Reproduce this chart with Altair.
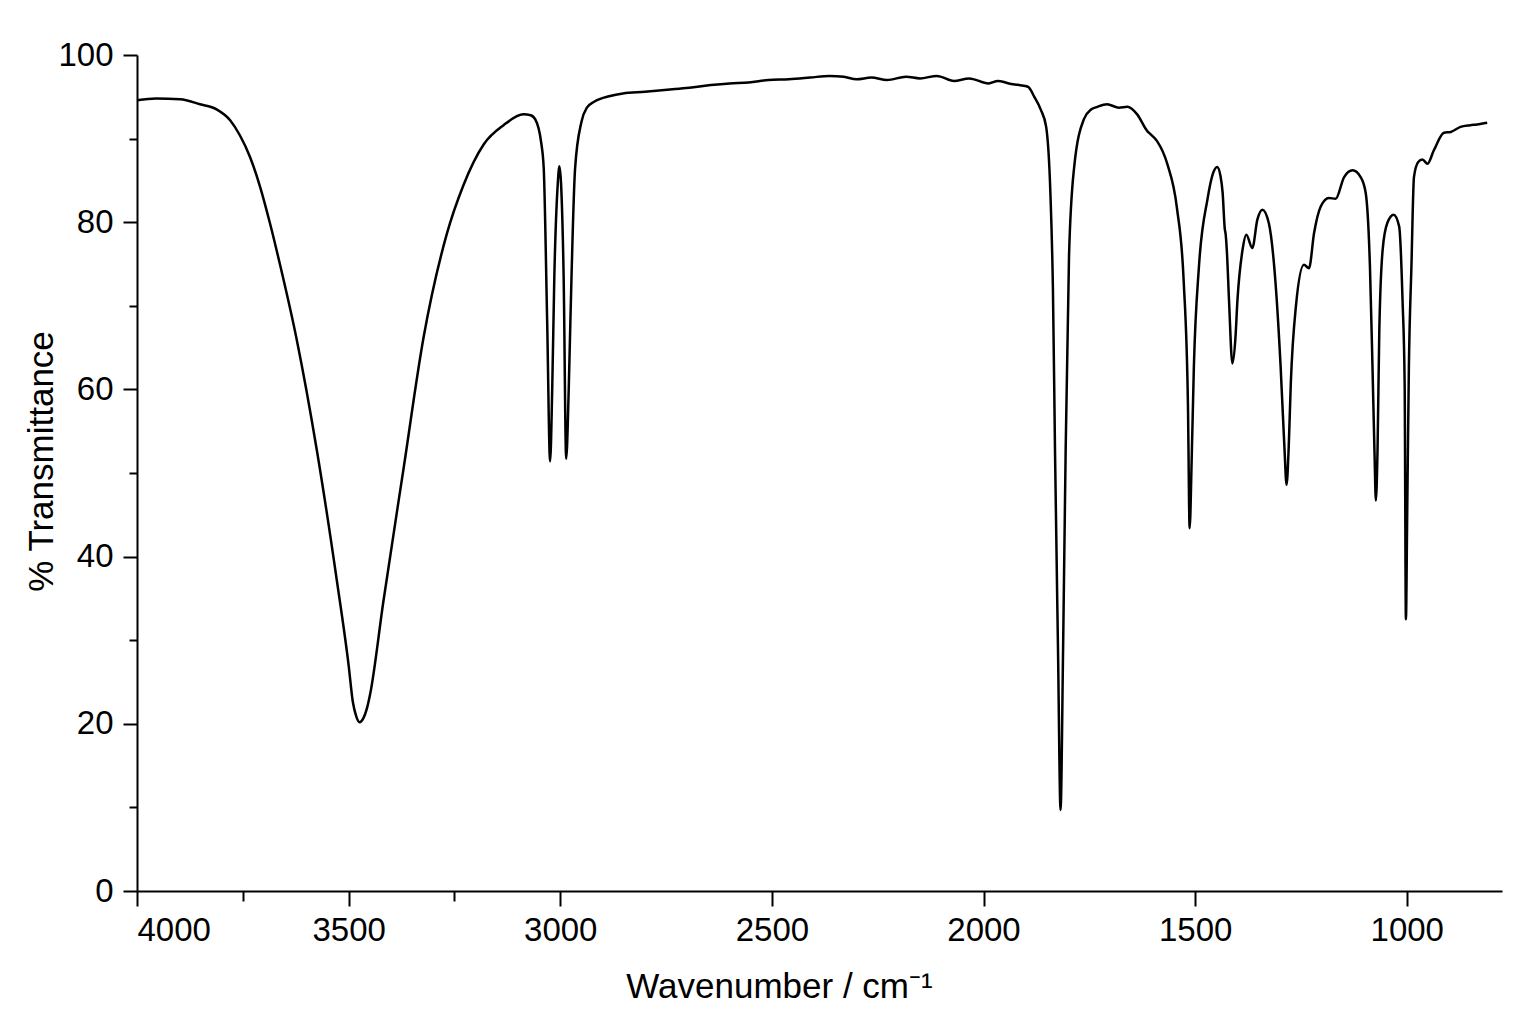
import altair as alt
import pandas as pd

# Spectrum (wavenumber in cm-1, % transmittance).
wavenumber = [
    4000, 3955, 3898, 3851, 3812, 3780, 3757, 3733, 3709, 3686, 3662, 3622, 3575, 3528,
    3500, 3490, 3482, 3474, 3466, 3456, 3449, 3418, 3370, 3323, 3268, 3229, 3181, 3134,
    3087, 3070, 3059, 3045, 3039, 3031, 3024, 3019, 3014, 3006, 3002, 2998, 2992, 2986,
    2980, 2976, 2965, 2950, 2937, 2920, 2882, 2852, 2800, 2735, 2690, 2644, 2600, 2555,
    2508, 2460, 2410, 2364, 2330, 2300, 2265, 2228, 2183, 2150, 2110, 2070, 2034, 1988,
    1966, 1940, 1916, 1895, 1880, 1865, 1852, 1842, 1836, 1831, 1824, 1818, 1812, 1806,
    1798, 1786, 1763, 1745, 1731, 1708, 1680, 1660, 1637, 1613, 1605, 1590, 1566, 1543,
    1527, 1517, 1513, 1508, 1503, 1491, 1471, 1458, 1448, 1440, 1435, 1430, 1428, 1425,
    1420, 1412, 1405, 1400, 1388, 1379, 1365, 1353, 1341, 1326, 1310, 1298, 1289, 1284,
    1279, 1274, 1262, 1243, 1231, 1219, 1203, 1184, 1168, 1148, 1128, 1109, 1097, 1087,
    1081, 1076, 1073, 1069, 1065, 1057, 1046, 1031, 1018, 1010, 1005, 1002, 999, 995,
    989, 983, 973, 963, 951, 936, 912, 896, 873, 850, 834, 810,
]
transmittance = [
    94.6, 94.8, 94.7, 94.1, 93.5, 92.2, 90.4, 87.8, 84.2, 79.9, 74.9, 65.8, 52.7, 37.2,
    27.0, 22.6, 20.9, 20.2, 20.6, 22.0, 23.6, 34.6, 50.6, 66.2, 78.6, 84.4, 89.3, 91.6,
    92.9, 92.8, 92.3, 89.5, 86.4, 68.3, 51.4, 60.0, 73.5, 84.5, 86.7, 84.5, 73.5, 51.7,
    60.0, 68.3, 86.4, 92.0, 93.7, 94.4, 95.1, 95.4, 95.6, 95.9, 96.1, 96.4, 96.6, 96.7,
    97.0, 97.1, 97.3, 97.5, 97.4, 97.1, 97.3, 97.0, 97.4, 97.2, 97.5, 96.9, 97.2, 96.6,
    96.9, 96.6, 96.4, 96.2, 95.0, 93.5, 91.4, 83.5, 72.0, 52.4, 28.9, 9.7, 28.9, 52.4,
    75.9, 86.5, 92.3, 93.5, 93.8, 94.1, 93.7, 93.8, 92.9, 90.9, 90.5, 89.7, 87.0, 81.7,
    72.9, 58.2, 43.4, 52.0, 62.7, 74.7, 82.7, 85.8, 86.6, 85.5, 83.5, 79.2, 78.6, 76.5,
    70.7, 63.1, 66.0, 70.7, 76.7, 78.5, 76.9, 80.3, 81.5, 79.9, 72.7, 62.7, 53.0, 48.6,
    53.0, 60.7, 69.9, 74.9, 74.5, 78.7, 81.9, 82.9, 82.8, 85.4, 86.2, 85.4, 83.5, 74.7,
    62.7, 52.0, 46.7, 53.0, 66.7, 76.7, 79.9, 80.9, 79.5, 70.7, 60.7, 32.5, 45.0, 62.7,
    74.7, 85.4, 87.2, 87.5, 87.0, 88.6, 90.7, 90.8, 91.4, 91.6, 91.7, 91.9,
]

major_x = [4000, 3500, 3000, 2500, 2000, 1500, 1000]
minor_x = [3750, 3250]
major_y = [0, 20, 40, 60, 80, 100]
minor_y = [10, 30, 50, 70, 90]

df = pd.DataFrame({"wavenumber": wavenumber, "transmittance": transmittance})

font = "Liberation Sans"

x_scale = alt.Scale(domain=[775, 4000], reverse=True, nice=False, zero=False)
y_scale = alt.Scale(domain=[0, 100], nice=False)

# Main trace with the labelled (major) axes.
spectrum = alt.Chart(df).mark_line(
    color="black", strokeWidth=2.5, interpolate="monotone"
).encode(
    x=alt.X("wavenumber:Q", scale=x_scale, axis=alt.Axis(
        orient="bottom", values=major_x, tickSize=15, labelPadding=8,
        format="d", labelFontSize=33,
        title="Wavenumber / cm\u207b\u00b9", titleFontSize=35,
        titleX=642, titleY=106, titleBaseline="alphabetic", titleAlign="center",
    )),
    y=alt.Y("transmittance:Q", scale=y_scale, axis=alt.Axis(
        orient="left", values=major_y, tickSize=14, labelPadding=10,
        labelFontSize=33,
        title="% Transmittance", titleFontSize=35, titleAngle=270,
        titleX=-85, titleY=406, titleBaseline="alphabetic", titleAlign="center",
    )),
)

# Invisible copy of the trace, only to carry the short (minor) ticks.
minor = alt.Chart(df).mark_line(opacity=0).encode(
    x=alt.X("wavenumber:Q", scale=x_scale, axis=alt.Axis(
        orient="bottom", values=minor_x, tickSize=10, labels=False,
        domain=False, grid=False, title=None,
    )),
    y=alt.Y("transmittance:Q", scale=y_scale, axis=alt.Axis(
        orient="left", values=minor_y, tickSize=8, labels=False,
        domain=False, grid=False, title=None,
    )),
)

chart = alt.layer(spectrum, minor).resolve_axis(
    x="independent", y="independent"
).properties(
    width=1365,
    height=836,
    autosize=alt.AutoSizeParams(type="none"),
    padding={"left": 129, "top": 47, "right": 20, "bottom": 120},
    background="white",
).configure_view(
    stroke=None
).configure_axis(
    grid=False,
    labelFont=font,
    titleFont=font,
    labelColor="black",
    titleColor="black",
    titleFontWeight="normal",
    domainColor="black",
    domainWidth=2,
    tickColor="black",
    tickWidth=2,
)

chart.save("out.html", embed_options={"renderer": "svg", "actions": False})
